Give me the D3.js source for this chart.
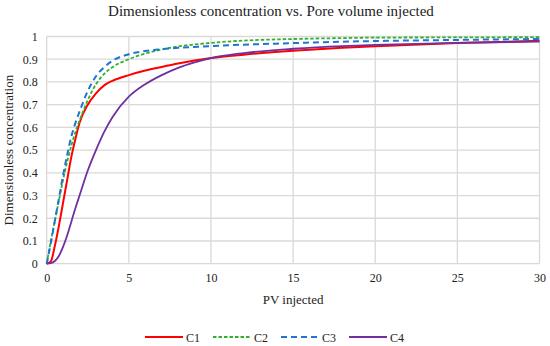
<!DOCTYPE html>
<html><head><meta charset="utf-8">
<script src="https://cdn.jsdelivr.net/npm/d3@7"></script>
<style>
html,body{margin:0;padding:0;background:#fff;}
svg text{font-family:"Liberation Serif","DejaVu Serif",serif;fill:#222;}
</style></head>
<body><svg id="chart" width="550" height="346"></svg>
<script>
const title = "Dimensionless concentration vs. Pore volume injected";
const xLabel = "PV injected";
const yLabel = "Dimensionless concentration";
const xTicks = [0, 5, 10, 15, 20, 25, 30];
const yTicks = [0, 0.1, 0.2, 0.3, 0.4, 0.5, 0.6, 0.7, 0.8, 0.9, 1];
const seriesNames = ["C1", "C2", "C3", "C4"];
const pv = [0, 0.25, 0.5, 0.75, 1, 1.25, 1.5, 1.75, 2, 2.5, 3, 3.5, 4, 5, 6, 7, 8, 9, 10, 12, 15, 18, 20, 25, 30];
const c1 = [0, 0.01, 0.08, 0.17, 0.27, 0.37, 0.47, 0.55, 0.62, 0.70, 0.75, 0.785, 0.805, 0.83, 0.85, 0.866, 0.881, 0.894, 0.905, 0.92, 0.937, 0.95, 0.957, 0.971, 0.981];
const c2 = [0, 0.1, 0.19, 0.28, 0.37, 0.45, 0.52, 0.58, 0.63, 0.72, 0.79, 0.835, 0.865, 0.9, 0.925, 0.943, 0.956, 0.965, 0.972, 0.982, 0.989, 0.993, 0.995, 0.996, 0.997];
const c3 = [0, 0.09, 0.19, 0.29, 0.39, 0.48, 0.56, 0.62, 0.67, 0.76, 0.825, 0.865, 0.893, 0.922, 0.936, 0.944, 0.95, 0.954, 0.958, 0.964, 0.971, 0.977, 0.98, 0.985, 0.989];
const c4 = [0, 0.002, 0.012, 0.035, 0.075, 0.125, 0.185, 0.245, 0.3, 0.41, 0.5, 0.58, 0.645, 0.735, 0.79, 0.83, 0.862, 0.886, 0.905, 0.927, 0.946, 0.958, 0.963, 0.972, 0.978];
const colors = ["#ff0000", "#33b02a", "#1f74d4", "#7030a0"];
const dashes = [null, "3.5,2", "6,4", null];
const widths = [2, 1.8, 2, 1.8];

const seriesValues = [c1, c2, c3, c4];
const svg = d3.select("#chart");
const m = {l: 46.7, r: 10.5, t: 36.5, b: 82.3};
const W = 550, H = 346;
const x = d3.scaleLinear().domain([0, 30]).range([m.l, W - m.r]);
const y = d3.scaleLinear().domain([0, 1]).range([H - m.b, m.t]);

// grid
svg.append("g").selectAll("line").data(xTicks).join("line")
  .attr("x1", d => x(d)).attr("x2", d => x(d)).attr("y1", y(0)).attr("y2", y(1))
  .attr("stroke", "#d9d9d9").attr("stroke-width", 1.3);
svg.append("g").selectAll("line").data(yTicks).join("line")
  .attr("x1", x(0)).attr("x2", x(30)).attr("y1", d => y(d)).attr("y2", d => y(d))
  .attr("stroke", "#d9d9d9").attr("stroke-width", 1.3);

// axes labels
const xAxis = d3.axisBottom(x).tickValues(xTicks).tickSize(0).tickPadding(10).tickFormat(d3.format("d"));
const gx = svg.append("g").attr("transform", `translate(0,${y(0)})`).call(xAxis);
gx.select(".domain").remove();
gx.selectAll("text").attr("font-size", 12).style("font-family", "Liberation Serif").attr("fill", "#333");
const yAxis = d3.axisLeft(y).tickValues(yTicks).tickSize(0).tickPadding(9).tickFormat(d => d === 0 || d === 1 ? String(d) : d.toFixed(1));
const gy = svg.append("g").attr("transform", `translate(${x(0)},0)`).call(yAxis);
gy.select(".domain").remove();
gy.selectAll("text").attr("font-size", 12).style("font-family", "Liberation Serif").attr("fill", "#333");

// lines
const line = d3.line().curve(d3.curveMonotoneX).x(d => x(d[0])).y(d => y(d[1]));
seriesValues.forEach((vals, i) => {
  svg.append("path").datum(pv.map((p, j) => [p, vals[j]]))
    .attr("fill", "none").attr("stroke", colors[i]).attr("stroke-width", widths[i])
    .attr("stroke-dasharray", dashes[i]).attr("d", line);
});

// titles
svg.append("text").attr("x", 271).attr("y", 16).attr("text-anchor", "middle")
  .attr("font-size", 15).text(title);
svg.append("text").attr("x", x(15)).attr("y", 304).attr("text-anchor", "middle")
  .attr("font-size", 13).text(xLabel);
svg.append("text").attr("transform", `translate(13,${(y(0) + y(1)) / 2}) rotate(-90)`)
  .attr("text-anchor", "middle").attr("font-size", 13).text(yLabel);

// legend
const lg = svg.append("g");
seriesNames.forEach((n, i) => {
  const x0 = 145 + i * 68;
  lg.append("line").attr("x1", x0).attr("x2", x0 + 38).attr("y1", 337).attr("y2", 337)
    .attr("stroke", colors[i]).attr("stroke-width", widths[i]).attr("stroke-dasharray", dashes[i]);
  lg.append("text").attr("x", x0 + 41).attr("y", 341.5).attr("font-size", 12).text(n);
});
</script></body></html>
